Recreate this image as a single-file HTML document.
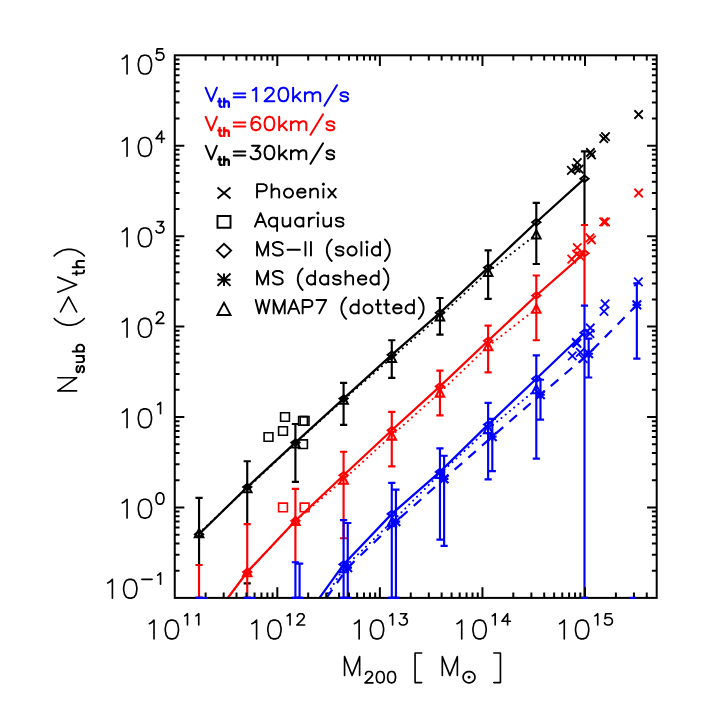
<!DOCTYPE html>
<html><head><meta charset="utf-8"><title>N_sub vs M_200</title><style>html,body{margin:0;padding:0;background:#fff;font-family:"Liberation Sans",sans-serif}svg{display:block}</style></head><body><svg width="709" height="709" viewBox="0 0 709 709" fill="none"><defs><clipPath id="clip"><rect x="174.75" y="55.3" width="481.95" height="542.6"/></clipPath></defs><rect width="709" height="709" fill="#fff"/><g clip-path="url(#clip)">
<path d="M199.05 533.1L247.23 488.1L295.41 443.3L343.59 399.7L391.77 357.8L439.95 316.3L488.13 271.8L536.31 234.3" stroke="#000" stroke-width="2.0" stroke-dasharray="0.1 5.4" stroke-linecap="round"/>
<path d="M199.05 534.2L247.23 487.1L295.41 442.6L343.59 398.6L391.77 354.8L439.95 312.8L488.13 267.6L536.31 222.3L584.49 178.7" stroke="#000" stroke-width="2.25" />
</g>
<path d="M195.45 497.9H202.65M199.05 497.9L199.05 565" stroke="#000" stroke-width="2.15" />
<path d="M243.63 461.2H250.83M247.23 461.2L247.23 524.1M243.63 583.4H250.83" stroke="#000" stroke-width="2.15" />
<path d="M291.81 424H299.01M295.41 424L295.41 481.8M291.81 481.8H299.01" stroke="#000" stroke-width="2.15" />
<path d="M339.99 382.8H347.19M343.59 382.8L343.59 424.8M339.99 424.8H347.19" stroke="#000" stroke-width="2.15" />
<path d="M388.17 340.2H395.37M391.77 340.2L391.77 377.9M388.17 377.9H395.37" stroke="#000" stroke-width="2.15" />
<path d="M436.35 298H443.55M439.95 298L439.95 334.6M436.35 334.6H443.55" stroke="#000" stroke-width="2.15" />
<path d="M484.53 250.4H491.73M488.13 250.4L488.13 298.9M484.53 298.9H491.73" stroke="#000" stroke-width="2.15" />
<path d="M532.71 202.9H539.91M536.31 202.9L536.31 264M532.71 264H539.91" stroke="#000" stroke-width="2.15" />
<path d="M580.89 151.3H588.09M584.49 151.3L584.49 225" stroke="#000" stroke-width="2.15" />
<path d="M195 534.2L199.05 531.05L203.1 534.2L199.05 537.35Z" stroke="#000" stroke-width="2.05" />
<path d="M243.18 487.1L247.23 483.95L251.28 487.1L247.23 490.25Z" stroke="#000" stroke-width="2.05" />
<path d="M291.36 442.6L295.41 439.45L299.46 442.6L295.41 445.75Z" stroke="#000" stroke-width="2.05" />
<path d="M339.54 398.6L343.59 395.45L347.64 398.6L343.59 401.75Z" stroke="#000" stroke-width="2.05" />
<path d="M387.72 354.8L391.77 351.65L395.82 354.8L391.77 357.95Z" stroke="#000" stroke-width="2.05" />
<path d="M435.9 312.8L439.95 309.65L444 312.8L439.95 315.95Z" stroke="#000" stroke-width="2.05" />
<path d="M484.08 267.6L488.13 264.45L492.18 267.6L488.13 270.75Z" stroke="#000" stroke-width="2.05" />
<path d="M532.26 222.3L536.31 219.15L540.36 222.3L536.31 225.45Z" stroke="#000" stroke-width="2.05" />
<path d="M580.44 178.7L584.49 175.55L588.54 178.7L584.49 181.85Z" stroke="#000" stroke-width="2.05" />
<path d="M194.8 537.2L199.05 529L203.3 537.2Z" stroke="#000" stroke-width="2.05" />
<path d="M242.98 492.2L247.23 484L251.48 492.2Z" stroke="#000" stroke-width="2.05" />
<path d="M291.16 447.4L295.41 439.2L299.66 447.4Z" stroke="#000" stroke-width="2.05" />
<path d="M339.34 403.8L343.59 395.6L347.84 403.8Z" stroke="#000" stroke-width="2.05" />
<path d="M387.52 361.9L391.77 353.7L396.02 361.9Z" stroke="#000" stroke-width="2.05" />
<path d="M435.7 320.4L439.95 312.2L444.2 320.4Z" stroke="#000" stroke-width="2.05" />
<path d="M483.88 275.9L488.13 267.7L492.38 275.9Z" stroke="#000" stroke-width="2.05" />
<path d="M532.06 238.4L536.31 230.2L540.56 238.4Z" stroke="#000" stroke-width="2.05" />
<path d="M634.4 110.25L642.8 118.75M634.4 118.75L642.8 110.25" stroke="#000" stroke-width="1.8" />
<path d="M599.55 134.45L607.95 142.95M599.55 142.95L607.95 134.45" stroke="#000" stroke-width="1.8" />
<path d="M601.3 132.45L609.7 140.95M601.3 140.95L609.7 132.45" stroke="#000" stroke-width="1.8" />
<path d="M586.2 148.25L594.6 156.75M586.2 156.75L594.6 148.25" stroke="#000" stroke-width="1.8" />
<path d="M587.3 150.65L595.7 159.15M587.3 159.15L595.7 150.65" stroke="#000" stroke-width="1.8" />
<path d="M573.1 158.35L581.5 166.85M573.1 166.85L581.5 158.35" stroke="#000" stroke-width="1.8" />
<path d="M567.2 166.05L575.6 174.55M567.2 174.55L575.6 166.05" stroke="#000" stroke-width="1.8" />
<path d="M571.9 164.05L580.3 172.55M571.9 172.55L580.3 164.05" stroke="#000" stroke-width="1.8" />
<path d="M575 164.95L583.4 173.45M575 173.45L583.4 164.95" stroke="#000" stroke-width="1.8" />
<path d="M264.1 432.7H272.9V441.3H264.1Z" stroke="#000" stroke-width="1.6" />
<path d="M280.6 412.7H289.4V421.3H280.6Z" stroke="#000" stroke-width="1.6" />
<path d="M278.6 426.7H287.4V435.3H278.6Z" stroke="#000" stroke-width="1.6" />
<path d="M298.6 416.6H307.4V425.2H298.6Z" stroke="#000" stroke-width="1.6" />
<path d="M300.2 416.6H309V425.2H300.2Z" stroke="#000" stroke-width="1.6" />
<path d="M298.6 439.9H307.4V448.5H298.6Z" stroke="#000" stroke-width="1.6" />
<g clip-path="url(#clip)">
<path d="M227.8 597.9L247.23 572.2L295.41 520.9L343.59 479.6L391.77 435.5L439.95 392.5L488.13 346.2L536.31 308.7" stroke="#f00" stroke-width="2.0" stroke-dasharray="0.1 5.4" stroke-linecap="round"/>
<path d="M227.8 597.9L247.23 572L295.41 520.8L343.59 475.2L391.77 430.2L439.95 386.4L488.13 340.8L536.31 295.5L584.49 253.2" stroke="#f00" stroke-width="2.25" />
</g>
<path d="M195.45 565H202.65M199.05 565L199.05 597.9M195.45 597.9H202.65" stroke="#f00" stroke-width="2.15" />
<path d="M243.63 524.1H250.83M247.23 524.1L247.23 597.9M243.63 597.9H250.83" stroke="#f00" stroke-width="2.15" />
<path d="M291.81 488.9H299.01M295.41 488.9L295.41 562.2" stroke="#f00" stroke-width="2.15" />
<path d="M339.99 451.7H347.19M343.59 451.7L343.59 538.2M339.99 538.2H347.19" stroke="#f00" stroke-width="2.15" />
<path d="M388.17 411.8H395.37M391.77 411.8L391.77 466.4M388.17 466.4H395.37" stroke="#f00" stroke-width="2.15" />
<path d="M436.35 370.6H443.55M439.95 370.6L439.95 415.4M436.35 415.4H443.55" stroke="#f00" stroke-width="2.15" />
<path d="M484.53 325.6H491.73M488.13 325.6L488.13 372.4M484.53 372.4H491.73" stroke="#f00" stroke-width="2.15" />
<path d="M532.71 275.5H539.91M536.31 275.5L536.31 340.2M532.71 340.2H539.91" stroke="#f00" stroke-width="2.15" />
<path d="M580.89 225H588.09M584.49 225L584.49 305.6" stroke="#f00" stroke-width="2.15" />
<path d="M243.18 572L247.23 568.85L251.28 572L247.23 575.15Z" stroke="#f00" stroke-width="2.05" />
<path d="M291.36 520.8L295.41 517.65L299.46 520.8L295.41 523.95Z" stroke="#f00" stroke-width="2.05" />
<path d="M339.54 475.2L343.59 472.05L347.64 475.2L343.59 478.35Z" stroke="#f00" stroke-width="2.05" />
<path d="M387.72 430.2L391.77 427.05L395.82 430.2L391.77 433.35Z" stroke="#f00" stroke-width="2.05" />
<path d="M435.9 386.4L439.95 383.25L444 386.4L439.95 389.55Z" stroke="#f00" stroke-width="2.05" />
<path d="M484.08 340.8L488.13 337.65L492.18 340.8L488.13 343.95Z" stroke="#f00" stroke-width="2.05" />
<path d="M532.26 295.5L536.31 292.35L540.36 295.5L536.31 298.65Z" stroke="#f00" stroke-width="2.05" />
<path d="M580.44 253.2L584.49 250.05L588.54 253.2L584.49 256.35Z" stroke="#f00" stroke-width="2.05" />
<path d="M242.98 576.3L247.23 568.1L251.48 576.3Z" stroke="#f00" stroke-width="2.05" />
<path d="M291.16 525L295.41 516.8L299.66 525Z" stroke="#f00" stroke-width="2.05" />
<path d="M339.34 483.7L343.59 475.5L347.84 483.7Z" stroke="#f00" stroke-width="2.05" />
<path d="M387.52 439.6L391.77 431.4L396.02 439.6Z" stroke="#f00" stroke-width="2.05" />
<path d="M435.7 396.6L439.95 388.4L444.2 396.6Z" stroke="#f00" stroke-width="2.05" />
<path d="M483.88 350.3L488.13 342.1L492.38 350.3Z" stroke="#f00" stroke-width="2.05" />
<path d="M532.06 312.8L536.31 304.6L540.56 312.8Z" stroke="#f00" stroke-width="2.05" />
<path d="M634.4 188.75L642.8 197.25M634.4 197.25L642.8 188.75" stroke="#f00" stroke-width="1.8" />
<path d="M599.5 217.6L607.9 226.1M599.5 226.1L607.9 217.6" stroke="#f00" stroke-width="1.8" />
<path d="M601.3 217.6L609.7 226.1M601.3 226.1L609.7 217.6" stroke="#f00" stroke-width="1.8" />
<path d="M585.8 233.55L594.2 242.05M585.8 242.05L594.2 233.55" stroke="#f00" stroke-width="1.8" />
<path d="M587.3 235.55L595.7 244.05M587.3 244.05L595.7 235.55" stroke="#f00" stroke-width="1.8" />
<path d="M573.1 243.4L581.5 251.9M573.1 251.9L581.5 243.4" stroke="#f00" stroke-width="1.8" />
<path d="M567.6 254.85L576 263.35M567.6 263.35L576 254.85" stroke="#f00" stroke-width="1.8" />
<path d="M572.4 249.95L580.8 258.45M572.4 258.45L580.8 249.95" stroke="#f00" stroke-width="1.8" />
<path d="M575.7 251.85L584.1 260.35M575.7 260.35L584.1 251.85" stroke="#f00" stroke-width="1.8" />
<path d="M278.6 503.15H287.4V511.75H278.6Z" stroke="#f00" stroke-width="1.6" />
<path d="M300.2 503.15H309V511.75H300.2Z" stroke="#f00" stroke-width="1.6" />
<g clip-path="url(#clip)">
<path d="M325 597.9L343.59 568.1L391.77 522L439.95 473.8L488.13 429L536.31 389.2" stroke="#00f" stroke-width="2.0" stroke-dasharray="0.1 5.4" stroke-linecap="round"/>
<path d="M326.5 597.9L347.76 567.6L395.94 521.6L444.12 478.9L492.3 436.6L540.48 394.8L588.66 353.8L636.84 304.9" stroke="#00f" stroke-width="2.2" stroke-dasharray="10 8.2"/>
<path d="M319.5 597.9L343.59 564.4L391.77 513.9L439.95 471.9L488.13 424.6L536.31 378.7L584.49 332.8" stroke="#00f" stroke-width="2.25" />
</g>
<path d="M195.45 597.9H202.65M199.05 597.9L199.05 597.9M195.45 597.9H202.65" stroke="#00f" stroke-width="2.15" />
<path d="M243.63 597.9H250.83M247.23 597.9L247.23 597.9M243.63 597.9H250.83" stroke="#00f" stroke-width="2.15" />
<path d="M291.81 562.2H299.01M295.41 562.2L295.41 597.9M291.81 597.9H299.01" stroke="#00f" stroke-width="2.15" />
<path d="M339.99 520.1H347.19M343.59 520.1L343.59 597.9M339.99 597.9H347.19" stroke="#00f" stroke-width="2.15" />
<path d="M388.17 482.8H395.37M391.77 482.8L391.77 597.9M388.17 597.9H395.37" stroke="#00f" stroke-width="2.15" />
<path d="M436.35 448.4H443.55M439.95 448.4L439.95 539.6M436.35 539.6H443.55" stroke="#00f" stroke-width="2.15" />
<path d="M484.53 402.9H491.73M488.13 402.9L488.13 479.4M484.53 479.4H491.73" stroke="#00f" stroke-width="2.15" />
<path d="M532.71 355.3H539.91M536.31 355.3L536.31 458.6M532.71 458.6H539.91" stroke="#00f" stroke-width="2.15" />
<path d="M580.89 305.6H588.09M584.49 305.6L584.49 597.9M580.89 597.9H588.09" stroke="#00f" stroke-width="2.15" />
<path d="M295.98 563.6H303.18M299.58 563.6L299.58 597.9M295.98 597.9H303.18" stroke="#00f" stroke-width="2.15" />
<path d="M344.16 523H351.36M347.76 523L347.76 597.9M344.16 597.9H351.36" stroke="#00f" stroke-width="2.15" />
<path d="M392.34 489.6H399.54M395.94 489.6L395.94 597.9M392.34 597.9H399.54" stroke="#00f" stroke-width="2.15" />
<path d="M440.52 455.7H447.72M444.12 455.7L444.12 545.9M440.52 545.9H447.72" stroke="#00f" stroke-width="2.15" />
<path d="M488.7 418.9H495.9M492.3 418.9L492.3 471.1M488.7 471.1H495.9" stroke="#00f" stroke-width="2.15" />
<path d="M536.88 379.7H544.08M540.48 379.7L540.48 419.6M536.88 419.6H544.08" stroke="#00f" stroke-width="2.15" />
<path d="M585.06 338.6H592.26M588.66 338.6L588.66 377.5M585.06 377.5H592.26" stroke="#00f" stroke-width="2.15" />
<path d="M633.24 283.3H640.44M636.84 283.3L636.84 358.6M633.24 358.6H640.44" stroke="#00f" stroke-width="2.15" />
<path d="M339.54 564.4L343.59 561.25L347.64 564.4L343.59 567.55Z" stroke="#00f" stroke-width="2.05" />
<path d="M387.72 513.9L391.77 510.75L395.82 513.9L391.77 517.05Z" stroke="#00f" stroke-width="2.05" />
<path d="M435.9 471.9L439.95 468.75L444 471.9L439.95 475.05Z" stroke="#00f" stroke-width="2.05" />
<path d="M484.08 424.6L488.13 421.45L492.18 424.6L488.13 427.75Z" stroke="#00f" stroke-width="2.05" />
<path d="M532.26 378.7L536.31 375.55L540.36 378.7L536.31 381.85Z" stroke="#00f" stroke-width="2.05" />
<path d="M580.44 332.8L584.49 329.65L588.54 332.8L584.49 335.95Z" stroke="#00f" stroke-width="2.05" />
<path d="M343.46 563.3L352.06 571.9M343.46 571.9L352.06 563.3M343.46 567.6L352.06 567.6M347.76 563.3L347.76 571.9" stroke="#00f" stroke-width="2.1" />
<path d="M391.64 517.3L400.24 525.9M391.64 525.9L400.24 517.3M391.64 521.6L400.24 521.6M395.94 517.3L395.94 525.9" stroke="#00f" stroke-width="2.1" />
<path d="M439.82 474.6L448.42 483.2M439.82 483.2L448.42 474.6M439.82 478.9L448.42 478.9M444.12 474.6L444.12 483.2" stroke="#00f" stroke-width="2.1" />
<path d="M488 432.3L496.6 440.9M488 440.9L496.6 432.3M488 436.6L496.6 436.6M492.3 432.3L492.3 440.9" stroke="#00f" stroke-width="2.1" />
<path d="M536.18 390.5L544.78 399.1M536.18 399.1L544.78 390.5M536.18 394.8L544.78 394.8M540.48 390.5L540.48 399.1" stroke="#00f" stroke-width="2.1" />
<path d="M584.36 349.5L592.96 358.1M584.36 358.1L592.96 349.5M584.36 353.8L592.96 353.8M588.66 349.5L588.66 358.1" stroke="#00f" stroke-width="2.1" />
<path d="M632.54 300.6L641.14 309.2M632.54 309.2L641.14 300.6M632.54 304.9L641.14 304.9M636.84 300.6L636.84 309.2" stroke="#00f" stroke-width="2.1" />
<path d="M339.34 572.2L343.59 564L347.84 572.2Z" stroke="#00f" stroke-width="2.05" />
<path d="M387.52 526.1L391.77 517.9L396.02 526.1Z" stroke="#00f" stroke-width="2.05" />
<path d="M435.7 477.9L439.95 469.7L444.2 477.9Z" stroke="#00f" stroke-width="2.05" />
<path d="M483.88 433.1L488.13 424.9L492.38 433.1Z" stroke="#00f" stroke-width="2.05" />
<path d="M532.06 393.3L536.31 385.1L540.56 393.3Z" stroke="#00f" stroke-width="2.05" />
<path d="M634.2 277.65L642.6 286.15M634.2 286.15L642.6 277.65" stroke="#00f" stroke-width="1.8" />
<path d="M600.9 299.6L609.3 308.1M600.9 308.1L609.3 299.6" stroke="#00f" stroke-width="1.8" />
<path d="M599.8 307.05L608.2 315.55M599.8 315.55L608.2 307.05" stroke="#00f" stroke-width="1.8" />
<path d="M586.1 323.75L594.5 332.25M586.1 332.25L594.5 323.75" stroke="#00f" stroke-width="1.8" />
<path d="M585.8 329.35L594.2 337.85M585.8 337.85L594.2 329.35" stroke="#00f" stroke-width="1.8" />
<path d="M572 338.25L580.4 346.75M572 346.75L580.4 338.25" stroke="#00f" stroke-width="1.8" />
<path d="M572.8 339.05L581.2 347.55M572.8 347.55L581.2 339.05" stroke="#00f" stroke-width="1.8" />
<path d="M568.1 351.65L576.5 360.15M568.1 360.15L576.5 351.65" stroke="#00f" stroke-width="1.8" />
<path d="M576.1 348.15L584.5 356.65M576.1 356.65L584.5 348.15" stroke="#00f" stroke-width="1.8" />
<path d="M579.1 354.45L587.5 362.95M579.1 362.95L587.5 354.45" stroke="#00f" stroke-width="1.8" />
<path d="M174.75 570.68h4.8M656.7 570.68h-4.8M174.75 554.75h4.8M656.7 554.75h-4.8M174.75 543.45h4.8M656.7 543.45h-4.8M174.75 534.69h4.8M656.7 534.69h-4.8M174.75 527.53h4.8M656.7 527.53h-4.8M174.75 521.47h4.8M656.7 521.47h-4.8M174.75 516.23h4.8M656.7 516.23h-4.8M174.75 511.6h4.8M656.7 511.6h-4.8M174.75 507.47h9.6M656.7 507.47h-9.6M174.75 480.24h4.8M656.7 480.24h-4.8M174.75 464.32h4.8M656.7 464.32h-4.8M174.75 453.02h4.8M656.7 453.02h-4.8M174.75 444.26h4.8M656.7 444.26h-4.8M174.75 437.1h4.8M656.7 437.1h-4.8M174.75 431.04h4.8M656.7 431.04h-4.8M174.75 425.8h4.8M656.7 425.8h-4.8M174.75 421.17h4.8M656.7 421.17h-4.8M174.75 417.03h9.6M656.7 417.03h-9.6M174.75 389.81h4.8M656.7 389.81h-4.8M174.75 373.89h4.8M656.7 373.89h-4.8M174.75 362.59h4.8M656.7 362.59h-4.8M174.75 353.82h4.8M656.7 353.82h-4.8M174.75 346.66h4.8M656.7 346.66h-4.8M174.75 340.61h4.8M656.7 340.61h-4.8M174.75 335.36h4.8M656.7 335.36h-4.8M174.75 330.74h4.8M656.7 330.74h-4.8M174.75 326.6h9.6M656.7 326.6h-9.6M174.75 299.38h4.8M656.7 299.38h-4.8M174.75 283.45h4.8M656.7 283.45h-4.8M174.75 272.15h4.8M656.7 272.15h-4.8M174.75 263.39h4.8M656.7 263.39h-4.8M174.75 256.23h4.8M656.7 256.23h-4.8M174.75 250.17h4.8M656.7 250.17h-4.8M174.75 244.93h4.8M656.7 244.93h-4.8M174.75 240.3h4.8M656.7 240.3h-4.8M174.75 236.17h9.6M656.7 236.17h-9.6M174.75 208.94h4.8M656.7 208.94h-4.8M174.75 193.02h4.8M656.7 193.02h-4.8M174.75 181.72h4.8M656.7 181.72h-4.8M174.75 172.96h4.8M656.7 172.96h-4.8M174.75 165.8h4.8M656.7 165.8h-4.8M174.75 159.74h4.8M656.7 159.74h-4.8M174.75 154.5h4.8M656.7 154.5h-4.8M174.75 149.87h4.8M656.7 149.87h-4.8M174.75 145.73h9.6M656.7 145.73h-9.6M174.75 118.51h4.8M656.7 118.51h-4.8M174.75 102.59h4.8M656.7 102.59h-4.8M174.75 91.29h4.8M656.7 91.29h-4.8M174.75 82.52h4.8M656.7 82.52h-4.8M174.75 75.36h4.8M656.7 75.36h-4.8M174.75 69.31h4.8M656.7 69.31h-4.8M174.75 64.06h4.8M656.7 64.06h-4.8M174.75 59.44h4.8M656.7 59.44h-4.8M205.63 597.9v-5.3M205.63 55.3v5.3M223.69 597.9v-5.3M223.69 55.3v5.3M236.5 597.9v-5.3M236.5 55.3v5.3M246.44 597.9v-5.3M246.44 55.3v5.3M254.56 597.9v-5.3M254.56 55.3v5.3M261.43 597.9v-5.3M261.43 55.3v5.3M267.38 597.9v-5.3M267.38 55.3v5.3M272.62 597.9v-5.3M272.62 55.3v5.3M277.32 597.9v-10.6M277.32 55.3v10.6M308.19 597.9v-5.3M308.19 55.3v5.3M326.25 597.9v-5.3M326.25 55.3v5.3M339.07 597.9v-5.3M339.07 55.3v5.3M349 597.9v-5.3M349 55.3v5.3M357.13 597.9v-5.3M357.13 55.3v5.3M363.99 597.9v-5.3M363.99 55.3v5.3M369.94 597.9v-5.3M369.94 55.3v5.3M375.19 597.9v-5.3M375.19 55.3v5.3M379.88 597.9v-10.6M379.88 55.3v10.6M410.76 597.9v-5.3M410.76 55.3v5.3M428.82 597.9v-5.3M428.82 55.3v5.3M441.63 597.9v-5.3M441.63 55.3v5.3M451.57 597.9v-5.3M451.57 55.3v5.3M459.69 597.9v-5.3M459.69 55.3v5.3M466.56 597.9v-5.3M466.56 55.3v5.3M472.51 597.9v-5.3M472.51 55.3v5.3M477.75 597.9v-5.3M477.75 55.3v5.3M482.45 597.9v-10.6M482.45 55.3v10.6M513.32 597.9v-5.3M513.32 55.3v5.3M531.38 597.9v-5.3M531.38 55.3v5.3M544.2 597.9v-5.3M544.2 55.3v5.3M554.13 597.9v-5.3M554.13 55.3v5.3M562.26 597.9v-5.3M562.26 55.3v5.3M569.12 597.9v-5.3M569.12 55.3v5.3M575.07 597.9v-5.3M575.07 55.3v5.3M580.32 597.9v-5.3M580.32 55.3v5.3M585.01 597.9v-10.6M585.01 55.3v10.6M615.89 597.9v-5.3M615.89 55.3v5.3M633.95 597.9v-5.3M633.95 55.3v5.3M646.76 597.9v-5.3M646.76 55.3v5.3" stroke="#000" stroke-width="2.0" />
<rect x="174.75" y="55.3" width="481.95" height="542.6" stroke="#000" stroke-width="2.0"/>
<path d="M195.45 597.9L202.65 597.9" stroke="#00f" stroke-width="2.15" />
<path d="M199.62 597.9L206.82 597.9" stroke="#00f" stroke-width="2.15" />
<path d="M243.63 597.9L250.83 597.9" stroke="#00f" stroke-width="2.15" />
<path d="M247.8 597.9L255 597.9" stroke="#00f" stroke-width="2.15" />
<path d="M291.81 597.9L299.01 597.9" stroke="#00f" stroke-width="2.15" />
<path d="M295.98 597.9L303.18 597.9" stroke="#00f" stroke-width="2.15" />
<path d="M339.99 597.9L347.19 597.9" stroke="#00f" stroke-width="2.15" />
<path d="M344.16 597.9L351.36 597.9" stroke="#00f" stroke-width="2.15" />
<path d="M388.17 597.9L395.37 597.9" stroke="#00f" stroke-width="2.15" />
<path d="M392.34 597.9L399.54 597.9" stroke="#00f" stroke-width="2.15" />
<path d="M580.89 597.9L588.09 597.9" stroke="#00f" stroke-width="2.15" />
<path d="M629.07 597.9L636.27 597.9" stroke="#00f" stroke-width="2.15" />
<path d="M107.7 582.93L109.58 582.04L112.4 579.36L112.4 598.15M129.32 579.36L126.5 580.25L124.62 582.93L123.68 587.41L123.68 590.1L124.62 594.57L126.5 597.25L129.32 598.15L131.2 598.15L134.02 597.25L135.9 594.57L136.84 590.1L136.84 587.41L135.9 582.93L134.02 580.25L131.2 579.36L129.32 579.36M141.91 579.42L152.06 579.42M157.7 575.12L158.83 574.58L160.52 572.97L160.52 584.25" stroke="#000" stroke-width="1.65" stroke-linecap="round" stroke-linejoin="round"/>
<path d="M122.36 502.85L124.24 501.96L127.06 499.27L127.06 518.07M143.98 499.27L141.16 500.17L139.28 502.85L138.34 507.33L138.34 510.01L139.28 514.49L141.16 517.17L143.98 518.07L145.86 518.07L148.68 517.17L150.56 514.49L151.5 510.01L151.5 507.33L150.56 502.85L148.68 500.17L145.86 499.27L143.98 499.27M159.4 492.89L157.7 493.43L156.58 495.04L156.01 497.72L156.01 499.33L156.58 502.02L157.7 503.63L159.4 504.17L160.52 504.17L162.22 503.63L163.34 502.02L163.91 499.33L163.91 497.72L163.34 495.04L162.22 493.43L160.52 492.89L159.4 492.89" stroke="#000" stroke-width="1.65" stroke-linecap="round" stroke-linejoin="round"/>
<path d="M122.36 412.42L124.24 411.52L127.06 408.84L127.06 427.63M143.98 408.84L141.16 409.73L139.28 412.42L138.34 416.89L138.34 419.58L139.28 424.05L141.16 426.74L143.98 427.63L145.86 427.63L148.68 426.74L150.56 424.05L151.5 419.58L151.5 416.89L150.56 412.42L148.68 409.73L145.86 408.84L143.98 408.84M157.7 404.6L158.83 404.07L160.52 402.46L160.52 413.73" stroke="#000" stroke-width="1.65" stroke-linecap="round" stroke-linejoin="round"/>
<path d="M122.36 321.99L124.24 321.09L127.06 318.4L127.06 337.2M143.98 318.4L141.16 319.3L139.28 321.99L138.34 326.46L138.34 329.14L139.28 333.62L141.16 336.31L143.98 337.2L145.86 337.2L148.68 336.31L150.56 333.62L151.5 329.14L151.5 326.46L150.56 321.99L148.68 319.3L145.86 318.4L143.98 318.4M156.58 314.71L156.58 314.17L157.14 313.1L157.7 312.56L158.83 312.02L161.09 312.02L162.22 312.56L162.78 313.1L163.34 314.17L163.34 315.25L162.78 316.32L161.65 317.93L156.01 323.3L163.91 323.3" stroke="#000" stroke-width="1.65" stroke-linecap="round" stroke-linejoin="round"/>
<path d="M122.36 231.55L124.24 230.66L127.06 227.97L127.06 246.77M143.98 227.97L141.16 228.87L139.28 231.55L138.34 236.03L138.34 238.71L139.28 243.19L141.16 245.87L143.98 246.77L145.86 246.77L148.68 245.87L150.56 243.19L151.5 238.71L151.5 236.03L150.56 231.55L148.68 228.87L145.86 227.97L143.98 227.97M157.14 221.59L163.34 221.59L159.96 225.89L161.65 225.89L162.78 226.42L163.34 226.96L163.91 228.57L163.91 229.64L163.34 231.26L162.22 232.33L160.52 232.87L158.83 232.87L157.14 232.33L156.58 231.79L156.01 230.72" stroke="#000" stroke-width="1.65" stroke-linecap="round" stroke-linejoin="round"/>
<path d="M122.36 141.12L124.24 140.22L127.06 137.54L127.06 156.33M143.98 137.54L141.16 138.43L139.28 141.12L138.34 145.59L138.34 148.28L139.28 152.75L141.16 155.44L143.98 156.33L145.86 156.33L148.68 155.44L150.56 152.75L151.5 148.28L151.5 145.59L150.56 141.12L148.68 138.43L145.86 137.54L143.98 137.54M161.65 131.16L156.01 138.67L164.47 138.67M161.65 131.16L161.65 142.43" stroke="#000" stroke-width="1.65" stroke-linecap="round" stroke-linejoin="round"/>
<path d="M122.36 58.78L124.24 57.89L127.06 55.2L127.06 74M143.98 55.2L141.16 56.1L139.28 58.78L138.34 63.26L138.34 65.94L139.28 70.42L141.16 73.1L143.98 74L145.86 74L148.68 73.1L150.56 70.42L151.5 65.94L151.5 63.26L150.56 58.78L148.68 56.1L145.86 55.2L143.98 55.2M162.78 48.82L157.14 48.82L156.58 53.66L157.14 53.12L158.83 52.58L160.52 52.58L162.22 53.12L163.34 54.19L163.91 55.8L163.91 56.88L163.34 58.49L162.22 59.56L160.52 60.1L158.83 60.1L157.14 59.56L156.58 59.03L156.01 57.95" stroke="#000" stroke-width="1.65" stroke-linecap="round" stroke-linejoin="round"/>
<path d="M149.31 623.68L151.19 622.79L154.01 620.11L154.01 638.9M170.93 620.11L168.11 621L166.23 623.68L165.29 628.16L165.29 630.85L166.23 635.32L168.11 638L170.93 638.9L172.81 638.9L175.63 638L177.51 635.32L178.45 630.85L178.45 628.16L177.51 623.68L175.63 621L172.81 620.11L170.93 620.11M184.65 615.87L185.78 615.33L187.47 613.72L187.47 625M195.93 615.87L197.06 615.33L198.75 613.72L198.75 625" stroke="#000" stroke-width="1.65" stroke-linecap="round" stroke-linejoin="round"/>
<path d="M251.88 623.68L253.76 622.79L256.58 620.11L256.58 638.9M273.5 620.11L270.68 621L268.8 623.68L267.86 628.16L267.86 630.85L268.8 635.32L270.68 638L273.5 638.9L275.38 638.9L278.2 638L280.08 635.32L281.02 630.85L281.02 628.16L280.08 623.68L278.2 621L275.38 620.11L273.5 620.11M287.22 615.87L288.35 615.33L290.04 613.72L290.04 625M297.37 616.41L297.37 615.87L297.94 614.8L298.5 614.26L299.63 613.72L301.88 613.72L303.01 614.26L303.58 614.8L304.14 615.87L304.14 616.94L303.58 618.02L302.45 619.63L296.81 625L304.7 625" stroke="#000" stroke-width="1.65" stroke-linecap="round" stroke-linejoin="round"/>
<path d="M354.44 623.68L356.32 622.79L359.14 620.11L359.14 638.9M376.06 620.11L373.24 621L371.36 623.68L370.42 628.16L370.42 630.85L371.36 635.32L373.24 638L376.06 638.9L377.94 638.9L380.76 638L382.64 635.32L383.58 630.85L383.58 628.16L382.64 623.68L380.76 621L377.94 620.11L376.06 620.11M389.78 615.87L390.91 615.33L392.6 613.72L392.6 625M400.5 613.72L406.7 613.72L403.32 618.02L405.01 618.02L406.14 618.56L406.7 619.09L407.27 620.7L407.27 621.78L406.7 623.39L405.58 624.46L403.88 625L402.19 625L400.5 624.46L399.94 623.93L399.37 622.85" stroke="#000" stroke-width="1.65" stroke-linecap="round" stroke-linejoin="round"/>
<path d="M457.01 623.68L458.89 622.79L461.71 620.11L461.71 638.9M478.63 620.11L475.81 621L473.93 623.68L472.99 628.16L472.99 630.85L473.93 635.32L475.81 638L478.63 638.9L480.51 638.9L483.33 638L485.21 635.32L486.15 630.85L486.15 628.16L485.21 623.68L483.33 621L480.51 620.11L478.63 620.11M492.35 615.87L493.48 615.33L495.17 613.72L495.17 625M507.58 613.72L501.94 621.24L510.4 621.24M507.58 613.72L507.58 625" stroke="#000" stroke-width="1.65" stroke-linecap="round" stroke-linejoin="round"/>
<path d="M559.57 623.68L561.45 622.79L564.27 620.11L564.27 638.9M581.19 620.11L578.37 621L576.49 623.68L575.55 628.16L575.55 630.85L576.49 635.32L578.37 638L581.19 638.9L583.07 638.9L585.89 638L587.77 635.32L588.71 630.85L588.71 628.16L587.77 623.68L585.89 621L583.07 620.11L581.19 620.11M594.91 615.87L596.04 615.33L597.73 613.72L597.73 625M611.27 613.72L605.63 613.72L605.07 618.56L605.63 618.02L607.32 617.48L609.01 617.48L610.71 618.02L611.83 619.09L612.4 620.7L612.4 621.78L611.83 623.39L610.71 624.46L609.01 625L607.32 625L605.63 624.46L605.07 623.93L604.5 622.85" stroke="#000" stroke-width="1.65" stroke-linecap="round" stroke-linejoin="round"/>
<path d="M344.57 656.61L344.57 675.4M344.57 656.61L352.09 675.4M359.61 656.61L352.09 675.4M359.61 656.61L359.61 675.4M421.65 653.02L415.07 653.02L415.07 682.56L421.65 682.56M442.33 656.61L442.33 675.4M442.33 656.61L449.85 675.4M457.37 656.61L449.85 675.4M457.37 656.61L457.37 675.4M493.85 653.02L500.43 653.02L500.43 682.56L493.85 682.56" stroke="#000" stroke-width="1.65" stroke-linecap="round" stroke-linejoin="round"/>
<path d="M365.63 674.21L365.63 673.67L366.19 672.6L366.76 672.06L367.89 671.52L370.14 671.52L371.27 672.06L371.83 672.6L372.4 673.67L372.4 674.75L371.83 675.82L370.71 677.43L365.07 682.8L372.96 682.8M379.73 671.52L378.04 672.06L376.91 673.67L376.35 676.36L376.35 677.97L376.91 680.65L378.04 682.26L379.73 682.8L380.86 682.8L382.55 682.26L383.68 680.65L384.24 677.97L384.24 676.36L383.68 673.67L382.55 672.06L380.86 671.52L379.73 671.52M391.01 671.52L389.32 672.06L388.19 673.67L387.63 676.36L387.63 677.97L388.19 680.65L389.32 682.26L391.01 682.8L392.14 682.8L393.83 682.26L394.96 680.65L395.52 677.97L395.52 676.36L394.96 673.67L393.83 672.06L392.14 671.52L391.01 671.52M474.95 677.16L474.8 678.42L474.37 679.61L473.66 680.68L472.72 681.57L471.6 682.24L470.35 682.66L469.03 682.8L467.71 682.66L466.46 682.24L465.34 681.57L464.4 680.68L463.69 679.61L463.26 678.42L463.11 677.16L463.26 675.91L463.69 674.72L464.4 673.65L465.34 672.75L466.46 672.08L467.71 671.66L469.03 671.52L470.35 671.66L471.6 672.08L472.72 672.75L473.66 673.65L474.37 674.72L474.8 675.91L474.95 677.16M469.71 677.16L469.51 677.62L469.03 677.81L468.55 677.62L468.35 677.16L468.55 676.71L469.03 676.52L469.51 676.71L469.71 677.16" stroke="#000" stroke-width="1.7" stroke-linecap="round" stroke-linejoin="round"/>
<path d="M57.8 390.88L76.6 390.88M57.8 390.88L76.6 377.72M57.8 377.72L76.6 377.72M54.22 318.5L56.1 320.38L58.92 322.26L62.68 324.14L67.38 325.08L71.14 325.08L75.84 324.14L79.6 322.26L82.42 320.38L84.3 318.5M60.49 311.92L68.54 296.88L76.6 311.92M57.8 292.18L76.6 284.66M57.8 277.14L76.6 284.66M54.22 255.9L56.1 254.02L58.92 252.14L62.68 250.26L67.38 249.32L71.14 249.32L75.84 250.26L79.6 252.14L82.42 254.02L84.3 255.9" stroke="#000" stroke-width="1.65" stroke-linecap="round" stroke-linejoin="round"/>
<path d="M78.09 366.07L77.02 366.63L76.48 368.32L76.48 370.01L77.02 371.71L78.09 372.27L79.17 371.71L79.7 370.58L80.24 367.76L80.78 366.63L81.85 366.07L82.39 366.07L83.46 366.63L84 368.32L84 370.01L83.46 371.71L82.39 372.27M76.48 362.12L81.85 362.12L83.46 361.55L84 360.43L84 358.73L83.46 357.61L81.85 355.91M76.48 355.91L84 355.91M72.72 351.4L84 351.4M78.09 351.4L77.02 350.27L76.48 349.15L76.48 347.45L77.02 346.33L78.09 345.2L79.7 344.63L80.78 344.63L82.39 345.2L83.46 346.33L84 347.45L84 349.15L83.46 350.27L82.39 351.4M72.72 273.38L81.85 273.38L83.46 272.82L84 271.69L84 270.56M76.48 275.07L76.48 271.13M72.72 267.18L84 267.18M78.63 267.18L77.02 265.49L76.48 264.36L76.48 262.67L77.02 261.54L78.63 260.97L84 260.97" stroke="#000" stroke-width="1.9799999999999998" stroke-linecap="round" stroke-linejoin="round"/>
<path d="M205.7 87.76L211.26 101.2M216.83 87.76L211.26 101.2M233.74 93.52L245.3 93.52M233.74 97.36L245.3 97.36M252.75 90.32L254.14 89.68L256.23 87.76L256.23 101.2M265.27 90.96L265.27 90.32L265.97 89.04L266.67 88.4L268.06 87.76L270.84 87.76L272.23 88.4L272.93 89.04L273.63 90.32L273.63 91.6L272.93 92.88L271.54 94.8L264.58 101.2L274.32 101.2M282.67 87.76L280.59 88.4L279.19 90.32L278.5 93.52L278.5 95.44L279.19 98.64L280.59 100.56L282.67 101.2L284.07 101.2L286.15 100.56L287.55 98.64L288.24 95.44L288.24 93.52L287.55 90.32L286.15 88.4L284.07 87.76L282.67 87.76M293.11 87.76L293.11 101.2M300.07 92.24L293.11 98.64M295.9 96.08L300.77 101.2M304.95 92.24L304.95 101.2M304.95 94.8L307.03 92.88L308.43 92.24L310.51 92.24L311.91 92.88L312.6 94.8L312.6 101.2M312.6 94.8L314.69 92.88L316.08 92.24L318.17 92.24L319.56 92.88L320.26 94.8L320.26 101.2M336.96 85.2L324.43 105.68M348.1 94.16L347.4 92.88L345.31 92.24L343.23 92.24L341.14 92.88L340.44 94.16L341.14 95.44L342.53 96.08L346.01 96.72L347.4 97.36L348.1 98.64L348.1 99.28L347.4 100.56L345.31 101.2L343.23 101.2L341.14 100.56L340.44 99.28" stroke="#00f" stroke-width="2.0" stroke-linecap="round" stroke-linejoin="round"/>
<path d="M219.62 98.74L219.62 105.26L220.03 106.42L220.87 106.8L221.7 106.8M218.36 101.42L221.29 101.42M224.21 98.74L224.21 106.8M224.21 102.96L225.46 101.81L226.3 101.42L227.55 101.42L228.39 101.81L228.8 102.96L228.8 106.8" stroke="#00f" stroke-width="2.35" stroke-linecap="round" stroke-linejoin="round"/>
<path d="M205.7 116.86L211.26 130.3M216.83 116.86L211.26 130.3M233.74 122.62L245.3 122.62M233.74 126.46L245.3 126.46M259.71 118.78L259.01 117.5L256.92 116.86L255.53 116.86L253.44 117.5L252.05 119.42L251.35 122.62L251.35 125.82L252.05 128.38L253.44 129.66L255.53 130.3L256.23 130.3L258.31 129.66L259.71 128.38L260.4 126.46L260.4 125.82L259.71 123.9L258.31 122.62L256.23 121.98L255.53 121.98L253.44 122.62L252.05 123.9L251.35 125.82M268.75 116.86L266.67 117.5L265.27 119.42L264.58 122.62L264.58 124.54L265.27 127.74L266.67 129.66L268.75 130.3L270.15 130.3L272.23 129.66L273.63 127.74L274.32 124.54L274.32 122.62L273.63 119.42L272.23 117.5L270.15 116.86L268.75 116.86M279.19 116.86L279.19 130.3M286.15 121.34L279.19 127.74M281.98 125.18L286.85 130.3M291.03 121.34L291.03 130.3M291.03 123.9L293.11 121.98L294.51 121.34L296.59 121.34L297.99 121.98L298.68 123.9L298.68 130.3M298.68 123.9L300.77 121.98L302.16 121.34L304.25 121.34L305.64 121.98L306.34 123.9L306.34 130.3M323.04 114.3L310.51 134.78M334.18 123.26L333.48 121.98L331.39 121.34L329.31 121.34L327.22 121.98L326.52 123.26L327.22 124.54L328.61 125.18L332.09 125.82L333.48 126.46L334.18 127.74L334.18 128.38L333.48 129.66L331.39 130.3L329.31 130.3L327.22 129.66L326.52 128.38" stroke="#f00" stroke-width="2.0" stroke-linecap="round" stroke-linejoin="round"/>
<path d="M219.62 127.84L219.62 134.36L220.03 135.52L220.87 135.9L221.7 135.9M218.36 130.52L221.29 130.52M224.21 127.84L224.21 135.9M224.21 132.06L225.46 130.91L226.3 130.52L227.55 130.52L228.39 130.91L228.8 132.06L228.8 135.9" stroke="#f00" stroke-width="2.35" stroke-linecap="round" stroke-linejoin="round"/>
<path d="M205.7 145.86L211.26 159.3M216.83 145.86L211.26 159.3M233.74 151.62L245.3 151.62M233.74 155.46L245.3 155.46M252.05 145.86L259.71 145.86L255.53 150.98L257.62 150.98L259.01 151.62L259.71 152.26L260.4 154.18L260.4 155.46L259.71 157.38L258.31 158.66L256.23 159.3L254.14 159.3L252.05 158.66L251.35 158.02L250.66 156.74M268.75 145.86L266.67 146.5L265.27 148.42L264.58 151.62L264.58 153.54L265.27 156.74L266.67 158.66L268.75 159.3L270.15 159.3L272.23 158.66L273.63 156.74L274.32 153.54L274.32 151.62L273.63 148.42L272.23 146.5L270.15 145.86L268.75 145.86M279.19 145.86L279.19 159.3M286.15 150.34L279.19 156.74M281.98 154.18L286.85 159.3M291.03 150.34L291.03 159.3M291.03 152.9L293.11 150.98L294.51 150.34L296.59 150.34L297.99 150.98L298.68 152.9L298.68 159.3M298.68 152.9L300.77 150.98L302.16 150.34L304.25 150.34L305.64 150.98L306.34 152.9L306.34 159.3M323.04 143.3L310.51 163.78M334.18 152.26L333.48 150.98L331.39 150.34L329.31 150.34L327.22 150.98L326.52 152.26L327.22 153.54L328.61 154.18L332.09 154.82L333.48 155.46L334.18 156.74L334.18 157.38L333.48 158.66L331.39 159.3L329.31 159.3L327.22 158.66L326.52 157.38" stroke="#000" stroke-width="2.0" stroke-linecap="round" stroke-linejoin="round"/>
<path d="M219.62 156.84L219.62 163.36L220.03 164.52L220.87 164.9L221.7 164.9M218.36 159.52L221.29 159.52M224.21 156.84L224.21 164.9M224.21 161.06L225.46 159.91L226.3 159.52L227.55 159.52L228.39 159.91L228.8 161.06L228.8 164.9" stroke="#000" stroke-width="2.35" stroke-linecap="round" stroke-linejoin="round"/>
<path d="M257.06 184.16L257.06 197.6M257.06 184.16L263.28 184.16L265.36 184.8L266.05 185.44L266.74 186.72L266.74 188.64L266.05 189.92L265.36 190.56L263.28 191.2L257.06 191.2M271.57 184.16L271.57 197.6M271.57 191.2L273.65 189.28L275.03 188.64L277.1 188.64L278.49 189.28L279.18 191.2L279.18 197.6M287.47 188.64L286.09 189.28L284.7 190.56L284.01 192.48L284.01 193.76L284.7 195.68L286.09 196.96L287.47 197.6L289.54 197.6L290.92 196.96L292.31 195.68L293 193.76L293 192.48L292.31 190.56L290.92 189.28L289.54 188.64L287.47 188.64M297.14 192.48L305.43 192.48L305.43 191.2L304.74 189.92L304.05 189.28L302.67 188.64L300.6 188.64L299.22 189.28L297.83 190.56L297.14 192.48L297.14 193.76L297.83 195.68L299.22 196.96L300.6 197.6L302.67 197.6L304.05 196.96L305.43 195.68M310.27 188.64L310.27 197.6M310.27 191.2L312.34 189.28L313.73 188.64L315.8 188.64L317.18 189.28L317.87 191.2L317.87 197.6M322.71 184.16L323.4 184.8L324.09 184.16L323.4 183.52L322.71 184.16M323.4 188.64L323.4 197.6M328.24 188.64L335.84 197.6M335.84 188.64L328.24 197.6" stroke="#000" stroke-width="1.9" stroke-linecap="round" stroke-linejoin="round"/>
<path d="M260.52 213.11L254.99 226.55M260.52 213.11L266.05 226.55M257.06 222.07L263.97 222.07M277.1 217.59L277.1 231.03M277.1 219.51L275.72 218.23L274.34 217.59L272.27 217.59L270.88 218.23L269.5 219.51L268.81 221.43L268.81 222.71L269.5 224.63L270.88 225.91L272.27 226.55L274.34 226.55L275.72 225.91L277.1 224.63M282.63 217.59L282.63 223.99L283.32 225.91L284.7 226.55L286.78 226.55L288.16 225.91L290.23 223.99M290.23 217.59L290.23 226.55M303.36 217.59L303.36 226.55M303.36 219.51L301.98 218.23L300.6 217.59L298.52 217.59L297.14 218.23L295.76 219.51L295.07 221.43L295.07 222.71L295.76 224.63L297.14 225.91L298.52 226.55L300.6 226.55L301.98 225.91L303.36 224.63M308.89 217.59L308.89 226.55M308.89 221.43L309.58 219.51L310.96 218.23L312.34 217.59L314.42 217.59M317.18 213.11L317.87 213.75L318.56 213.11L317.87 212.47L317.18 213.11M317.87 217.59L317.87 226.55M323.4 217.59L323.4 223.99L324.09 225.91L325.47 226.55L327.55 226.55L328.93 225.91L331 223.99M331 217.59L331 226.55M343.44 219.51L342.75 218.23L340.68 217.59L338.6 217.59L336.53 218.23L335.84 219.51L336.53 220.79L337.91 221.43L341.37 222.07L342.75 222.71L343.44 223.99L343.44 224.63L342.75 225.91L340.68 226.55L338.6 226.55L336.53 225.91L335.84 224.63" stroke="#000" stroke-width="1.9" stroke-linecap="round" stroke-linejoin="round"/>
<path d="M257.06 242.06L257.06 255.5M257.06 242.06L262.59 255.5M268.12 242.06L262.59 255.5M268.12 242.06L268.12 255.5M282.63 243.98L281.25 242.7L279.18 242.06L276.41 242.06L274.34 242.7L272.96 243.98L272.96 245.26L273.65 246.54L274.34 247.18L275.72 247.82L279.87 249.1L281.25 249.74L281.94 250.38L282.63 251.66L282.63 253.58L281.25 254.86L279.18 255.5L276.41 255.5L274.34 254.86L272.96 253.58M287.47 249.74L299.91 249.74M305.43 242.06L305.43 255.5M310.96 242.06L310.96 255.5M331.69 239.5L330.31 240.84L328.93 242.86L327.55 245.55L326.86 248.91L326.86 251.6L327.55 254.96L328.93 257.64L330.31 259.66L331.69 261M343.44 248.46L342.75 247.18L340.67 246.54L338.6 246.54L336.53 247.18L335.84 248.46L336.53 249.74L337.91 250.38L341.37 251.02L342.75 251.66L343.44 252.94L343.44 253.58L342.75 254.86L340.67 255.5L338.6 255.5L336.53 254.86L335.84 253.58M351.04 246.54L349.66 247.18L348.28 248.46L347.58 250.38L347.58 251.66L348.28 253.58L349.66 254.86L351.04 255.5L353.11 255.5L354.5 254.86L355.88 253.58L356.57 251.66L356.57 250.38L355.88 248.46L354.5 247.18L353.11 246.54L351.04 246.54M361.4 242.06L361.4 255.5M366.24 242.06L366.93 242.7L367.62 242.06L366.93 241.42L366.24 242.06M366.93 246.54L366.93 255.5M380.06 242.06L380.06 255.5M380.06 248.46L378.68 247.18L377.3 246.54L375.23 246.54L373.84 247.18L372.46 248.46L371.77 250.38L371.77 251.66L372.46 253.58L373.84 254.86L375.23 255.5L377.3 255.5L378.68 254.86L380.06 253.58M384.9 239.5L386.28 240.84L387.66 242.86L389.04 245.55L389.74 248.91L389.74 251.6L389.04 254.96L387.66 257.64L386.28 259.66L384.9 261" stroke="#000" stroke-width="1.9" stroke-linecap="round" stroke-linejoin="round"/>
<path d="M257.06 271.01L257.06 284.45M257.06 271.01L262.59 284.45M268.12 271.01L262.59 284.45M268.12 271.01L268.12 284.45M282.63 272.93L281.25 271.65L279.18 271.01L276.41 271.01L274.34 271.65L272.96 272.93L272.96 274.21L273.65 275.49L274.34 276.13L275.72 276.77L279.87 278.05L281.25 278.69L281.94 279.33L282.63 280.61L282.63 282.53L281.25 283.81L279.18 284.45L276.41 284.45L274.34 283.81L272.96 282.53M302.67 268.45L301.29 269.79L299.91 271.81L298.52 274.5L297.83 277.86L297.83 280.55L298.52 283.91L299.91 286.59L301.29 288.61L302.67 289.95M315.11 271.01L315.11 284.45M315.11 277.41L313.73 276.13L312.34 275.49L310.27 275.49L308.89 276.13L307.51 277.41L306.82 279.33L306.82 280.61L307.51 282.53L308.89 283.81L310.27 284.45L312.34 284.45L313.73 283.81L315.11 282.53M328.24 275.49L328.24 284.45M328.24 277.41L326.86 276.13L325.47 275.49L323.4 275.49L322.02 276.13L320.64 277.41L319.94 279.33L319.94 280.61L320.64 282.53L322.02 283.81L323.4 284.45L325.47 284.45L326.86 283.81L328.24 282.53M340.68 277.41L339.98 276.13L337.91 275.49L335.84 275.49L333.76 276.13L333.07 277.41L333.76 278.69L335.15 279.33L338.6 279.97L339.98 280.61L340.68 281.89L340.68 282.53L339.98 283.81L337.91 284.45L335.84 284.45L333.76 283.81L333.07 282.53M345.51 271.01L345.51 284.45M345.51 278.05L347.59 276.13L348.97 275.49L351.04 275.49L352.42 276.13L353.11 278.05L353.11 284.45M357.95 279.33L366.24 279.33L366.24 278.05L365.55 276.77L364.86 276.13L363.48 275.49L361.41 275.49L360.02 276.13L358.64 277.41L357.95 279.33L357.95 280.61L358.64 282.53L360.02 283.81L361.41 284.45L363.48 284.45L364.86 283.81L366.24 282.53M378.68 271.01L378.68 284.45M378.68 277.41L377.3 276.13L375.92 275.49L373.84 275.49L372.46 276.13L371.08 277.41L370.39 279.33L370.39 280.61L371.08 282.53L372.46 283.81L373.84 284.45L375.92 284.45L377.3 283.81L378.68 282.53M383.52 268.45L384.9 269.79L386.28 271.81L387.66 274.5L388.35 277.86L388.35 280.55L387.66 283.91L386.28 286.59L384.9 288.61L383.52 289.95" stroke="#000" stroke-width="1.9" stroke-linecap="round" stroke-linejoin="round"/>
<path d="M255.68 299.96L259.14 313.4M262.59 299.96L259.14 313.4M262.59 299.96L266.05 313.4M269.5 299.96L266.05 313.4M273.65 299.96L273.65 313.4M273.65 299.96L279.18 313.4M284.7 299.96L279.18 313.4M284.7 299.96L284.7 313.4M293.69 299.96L288.16 313.4M293.69 299.96L299.22 313.4M290.23 308.92L297.14 308.92M302.67 299.96L302.67 313.4M302.67 299.96L308.89 299.96L310.96 300.6L311.65 301.24L312.34 302.52L312.34 304.44L311.65 305.72L310.96 306.36L308.89 307L302.67 307M326.16 299.96L319.25 313.4M316.49 299.96L326.16 299.96M346.2 297.4L344.82 298.74L343.44 300.76L342.06 303.45L341.37 306.81L341.37 309.5L342.06 312.86L343.44 315.54L344.82 317.56L346.2 318.9M358.64 299.96L358.64 313.4M358.64 306.36L357.26 305.08L355.88 304.44L353.8 304.44L352.42 305.08L351.04 306.36L350.35 308.28L350.35 309.56L351.04 311.48L352.42 312.76L353.8 313.4L355.88 313.4L357.26 312.76L358.64 311.48M366.93 304.44L365.55 305.08L364.17 306.36L363.48 308.28L363.48 309.56L364.17 311.48L365.55 312.76L366.93 313.4L369.01 313.4L370.39 312.76L371.77 311.48L372.46 309.56L372.46 308.28L371.77 306.36L370.39 305.08L369.01 304.44L366.93 304.44M377.99 299.96L377.99 310.84L378.68 312.76L380.06 313.4L381.44 313.4M375.92 304.44L380.75 304.44M386.28 299.96L386.28 310.84L386.97 312.76L388.35 313.4L389.74 313.4M384.21 304.44L389.04 304.44M393.19 308.28L401.48 308.28L401.48 307L400.79 305.72L400.1 305.08L398.72 304.44L396.65 304.44L395.26 305.08L393.88 306.36L393.19 308.28L393.19 309.56L393.88 311.48L395.26 312.76L396.65 313.4L398.72 313.4L400.1 312.76L401.48 311.48M413.92 299.96L413.92 313.4M413.92 306.36L412.54 305.08L411.16 304.44L409.08 304.44L407.7 305.08L406.32 306.36L405.63 308.28L405.63 309.56L406.32 311.48L407.7 312.76L409.08 313.4L411.16 313.4L412.54 312.76L413.92 311.48M418.76 297.4L420.14 298.74L421.52 300.76L422.9 303.45L423.59 306.81L423.59 309.5L422.9 312.86L421.52 315.54L420.14 317.56L418.76 318.9" stroke="#000" stroke-width="1.9" stroke-linecap="round" stroke-linejoin="round"/>
<path d="M217.5 187.4L230.5 198.6M217.5 198.6L230.5 187.4" stroke="#000" stroke-width="1.95" />
<path d="M217.5 216H230.5V227.8H217.5Z" stroke="#000" stroke-width="1.95" />
<path d="M216.9 250.6L224 243.9L231.1 250.6L224 257.3Z" stroke="#000" stroke-width="1.95" />
<path d="M217.5 273.5L230.5 285.9M217.5 285.9L230.5 273.5M217.5 279.7L230.5 279.7M224 273.5L224 285.9" stroke="#000" stroke-width="1.95" />
<path d="M217.5 314.9L224 302.7L230.5 314.9Z" stroke="#000" stroke-width="1.95" /></svg></body></html>
